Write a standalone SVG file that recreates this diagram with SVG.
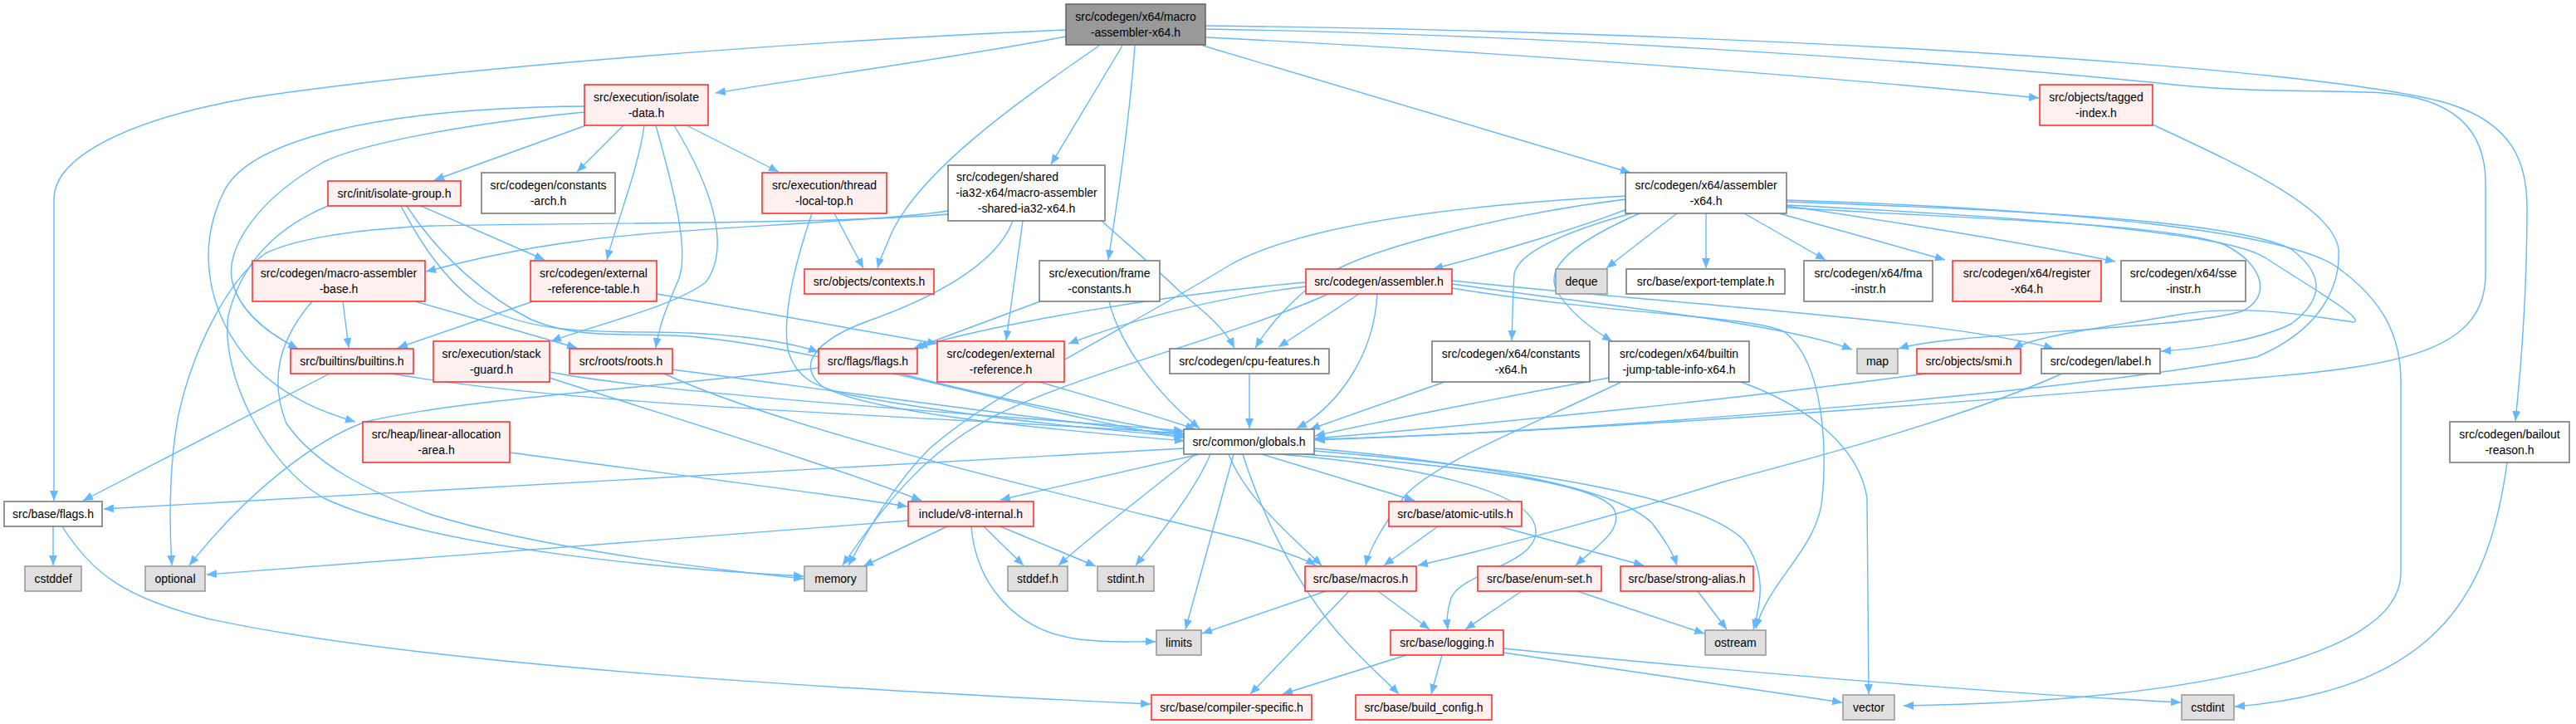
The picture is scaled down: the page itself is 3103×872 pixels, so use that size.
<svg xmlns="http://www.w3.org/2000/svg" width="3103" height="872" viewBox="0 0 3103 872">
<defs>
<marker id="ah" markerUnits="userSpaceOnUse" markerWidth="13" markerHeight="10" refX="12" refY="5" orient="auto"><path d="M0,0 L12,5 L0,10 z" fill="#63b8ff"/></marker>
<style>
.e{fill:none;stroke:#63b8ff;stroke-width:1.4;marker-end:url(#ah)}
.n rect{stroke-width:1.6}
.r rect{fill:#fff0f0;stroke:#ff3030}
.w rect{fill:#ffffff;stroke:#7a7a7a}
.g rect{fill:#e0e0e0;stroke:#9a9a9a}
.k rect{fill:#999999;stroke:#666666}
text{font-family:"Liberation Sans",Arial,sans-serif;font-size:14px;fill:#000;text-anchor:middle}
</style>
</defs>
<rect width="3103" height="872" fill="#fff"/>
<g id="edges">
<path class="e" d="M1284,44 C1150,70 960,95 862,112"/>
<path class="e" d="M1284,36 C1000,48 550,80 300,118 C150,145 65,190 65,240 L65,603"/>
<path class="e" d="M1324,55 C1230,120 1100,210 1070,290 C1064,305 1060,312 1057,323"/>
<path class="e" d="M1352,55 L1266,198"/>
<path class="e" d="M1367,55 C1360,150 1345,250 1335,313"/>
<path class="e" d="M1449,55 L1964,208"/>
<path class="e" d="M1452,45 C1800,62 2200,92 2456,118"/>
<path class="e" d="M1452,31 C2100,38 2800,80 2950,125 C3030,150 3044,200 3044,250 C3044,350 3036,450 3030,507"/>
<path class="e" d="M1452,35 C1900,42 2400,80 2600,100 C2700,112 2800,108 2870,112 C2960,118 2994,160 2994,220 L2994,330 C2994,420 2900,440 2720,455 C2300,490 1900,520 1584,529"/>
<path class="e" d="M704,128 C450,130 300,170 270,230 C235,300 250,380 305,440 C345,480 390,497 428,508"/>
<path class="e" d="M704,135 C550,150 430,175 390,195 C310,240 270,300 280,340 C290,380 330,405 359,420"/>
<path class="e" d="M706,151 L523,217"/>
<path class="e" d="M751,151 L695,207"/>
<path class="e" d="M776,151 C770,200 742,270 731,313"/>
<path class="e" d="M790,151 C812,230 830,300 818,335 C808,360 795,385 790,419"/>
<path class="e" d="M812,151 C860,230 880,300 850,340 C810,370 720,390 664,411"/>
<path class="e" d="M827,151 L938,207"/>
<path class="e" d="M395,248 C330,275 290,320 275,380 C265,450 320,560 390,600 C520,660 800,685 968,694"/>
<path class="e" d="M507,248 L656,313"/>
<path class="e" d="M483,248 C510,300 540,340 575,365 C630,398 700,400 780,400 C860,400 940,408 986,424"/>
<path class="e" d="M490,248 C530,310 590,360 640,385 C700,410 760,400 830,405 C1000,420 1250,500 1426,527"/>
<path class="e" d="M376,363 C335,410 325,460 345,510 C380,560 440,590 520,620 C650,660 850,685 968,697"/>
<path class="e" d="M413,363 L420,419"/>
<path class="e" d="M500,363 L695,419"/>
<path class="e" d="M642,363 L479,419"/>
<path class="e" d="M780,352 L1129,414"/>
<path class="e" d="M1005,257 L1040,323"/>
<path class="e" d="M978,257 C960,310 940,380 950,425 C960,455 980,465 1020,475 C1150,500 1300,515 1426,526"/>
<path class="e" d="M1142,254 C1050,268 800,275 700,290 C620,300 560,315 513,327"/>
<path class="e" d="M1142,258 C1000,270 700,268 520,272 C420,276 350,290 320,305 C270,340 230,430 215,500 C205,550 203,620 207,681"/>
<path class="e" d="M1232,266 L1212,410"/>
<path class="e" d="M1327,266 C1365,300 1400,330 1420,350 C1450,375 1475,395 1487,419"/>
<path class="e" d="M1220,266 C1200,320 1120,360 1050,385 C980,410 960,440 990,465 C1050,500 1300,520 1427,531"/>
<path class="e" d="M1253,363 L1100,420"/>
<path class="e" d="M1336,363 C1350,420 1400,480 1445,516"/>
<path class="e" d="M986,443 C780,468 560,480 440,508 C380,530 300,590 228,681"/>
<path class="e" d="M1085,450 C1200,480 1350,510 1426,522"/>
<path class="e" d="M1960,252 C1900,275 1800,305 1726,324"/>
<path class="e" d="M2020,257 L1935,323"/>
<path class="e" d="M2055,257 L2055,323"/>
<path class="e" d="M2101,257 L2199,313"/>
<path class="e" d="M2143,257 L2343,313"/>
<path class="e" d="M2152,248 C2300,270 2450,295 2548,315"/>
<path class="e" d="M1965,257 C1900,275 1830,300 1824,330 C1822,360 1822,385 1821,410"/>
<path class="e" d="M1975,257 C1900,290 1860,320 1875,350 C1890,375 1915,395 1942,411"/>
<path class="e" d="M1958,240 C1800,260 1650,300 1600,330 C1560,355 1530,390 1512,419"/>
<path class="e" d="M1958,236 C1700,250 1550,280 1480,320 C1350,400 1200,470 1120,540 C1080,580 1050,630 1022,681"/>
<path class="e" d="M2152,250 C2400,265 2620,270 2680,295 C2730,320 2735,360 2700,375 C2620,398 2350,400 2287,420"/>
<path class="e" d="M2152,247 C2450,262 2680,280 2728,310 C2790,350 2850,385 2835,388 C2780,380 2700,365 2618,380 C2530,395 2450,405 2425,420"/>
<path class="e" d="M2152,243 C2500,255 2700,270 2760,300 C2800,330 2800,360 2760,390 C2720,410 2650,420 2603,423"/>
<path class="e" d="M2152,241 C2500,252 2760,280 2817,323 C2867,360 2892,400 2892,460 L2892,690 C2892,800 2600,845 2293,850"/>
<path class="e" d="M2593,150 C2700,200 2810,250 2817,300 C2820,350 2790,400 2718,430 C2500,470 2000,515 1584,530"/>
<path class="e" d="M1637,354 L1540,418"/>
<path class="e" d="M1573,345 C1450,360 1350,390 1287,414"/>
<path class="e" d="M1573,340 C1400,355 1200,390 1105,418"/>
<path class="e" d="M1659,354 C1655,430 1610,490 1562,516"/>
<path class="e" d="M1749,342 C1950,370 2150,390 2231,421"/>
<path class="e" d="M1749,338 C2000,365 2350,385 2474,420"/>
<path class="e" d="M1749,347 C1950,380 2110,380 2150,400 C2200,440 2200,550 2195,600 C2190,660 2130,700 2115,757"/>
<path class="e" d="M1600,354 C1500,400 1300,450 1200,500 C1120,540 1070,600 1015,681"/>
<path class="e" d="M1740,460 L1578,517"/>
<path class="e" d="M1938,455 C1800,480 1650,510 1584,525"/>
<path class="e" d="M1953,460 C1850,510 1720,560 1690,600 C1665,635 1650,660 1645,681"/>
<path class="e" d="M2097,460 C2180,490 2240,540 2249,600 L2251,836"/>
<path class="e" d="M1505,450 L1505,516"/>
<path class="e" d="M2320,450 C2100,480 1800,510 1584,528"/>
<path class="e" d="M2484,450 C2350,510 2150,560 2077,580 C1950,620 1800,660 1708,681"/>
<path class="e" d="M810,445 C1000,470 1250,505 1426,524"/>
<path class="e" d="M800,450 C950,520 1300,600 1500,650 C1540,662 1570,672 1585,681"/>
<path class="e" d="M397,450 L100,603"/>
<path class="e" d="M472,450 C700,490 1100,500 1426,522"/>
<path class="e" d="M662,455 C800,500 1000,560 1110,603"/>
<path class="e" d="M662,448 C800,475 1200,500 1426,519"/>
<path class="e" d="M614,545 C800,570 1000,595 1093,610"/>
<path class="e" d="M1252,460 C1320,480 1390,500 1440,517"/>
<path class="e" d="M1094,627 C800,650 500,675 249,692"/>
<path class="e" d="M1141,634 L1040,682"/>
<path class="e" d="M1185,634 L1233,681"/>
<path class="e" d="M1205,634 L1320,682"/>
<path class="e" d="M1170,634 C1175,700 1220,760 1300,770 C1340,775 1370,772 1392,773"/>
<path class="e" d="M64,634 L64,681"/>
<path class="e" d="M75,634 C110,690 150,720 250,745 C500,800 1000,830 1386,848"/>
<path class="e" d="M3020,557 C3000,700 2950,830 2692,851"/>
<path class="e" d="M1660,712 L1722,758"/>
<path class="e" d="M1597,712 L1448,763"/>
<path class="e" d="M1625,712 L1506,836"/>
<path class="e" d="M1833,712 L1765,758"/>
<path class="e" d="M1900,712 L2053,763"/>
<path class="e" d="M2045,712 L2080,758"/>
<path class="e" d="M1732,634 L1667,681"/>
<path class="e" d="M1806,634 L1980,681"/>
<path class="e" d="M1694,789 L1545,836"/>
<path class="e" d="M1737,789 L1724,836"/>
<path class="e" d="M1811,786 L2219,846"/>
<path class="e" d="M1811,781 C2200,820 2500,840 2627,846"/>
<path class="e" d="M1426,540 L125,613"/>
<path class="e" d="M1445,547 L1205,602"/>
<path class="e" d="M1520,547 L1704,603"/>
<path class="e" d="M1480,547 C1500,600 1560,650 1592,681"/>
<path class="e" d="M1440,547 C1400,580 1320,640 1275,681"/>
<path class="e" d="M1458,547 C1440,590 1400,640 1368,681"/>
<path class="e" d="M1486,547 L1428,758"/>
<path class="e" d="M1497,547 C1520,620 1560,700 1610,760 C1645,800 1670,820 1685,836"/>
<path class="e" d="M1540,547 C1700,560 1850,590 1850,640 C1850,680 1760,690 1748,720 C1742,740 1743,750 1744,758"/>
<path class="e" d="M1570,547 C1750,560 1930,580 1945,615 C1955,640 1920,660 1898,681"/>
<path class="e" d="M1583,540 C1800,560 1950,590 1990,630 C2005,650 2015,665 2020,681"/>
<path class="e" d="M1583,543 C1850,565 2050,600 2100,650 C2130,690 2120,730 2112,758"/>
</g>
<g id="n0" class="n k"><rect x="1284" y="5" width="168" height="49"/><text x="1368" y="25">src/codegen/x64/macro</text><text x="1368" y="44">-assembler-x64.h</text></g>
<g id="n1" class="n r"><rect x="704" y="102" width="149" height="49"/><text x="778.5" y="122">src/execution/isolate</text><text x="778.5" y="141">-data.h</text></g>
<g id="n2" class="n r"><rect x="2457" y="102" width="136" height="49"/><text x="2525" y="122">src/objects/tagged</text><text x="2525" y="141">-index.h</text></g>
<g id="n3" class="n r"><rect x="395" y="218" width="160" height="30"/><text x="475" y="238">src/init/isolate-group.h</text></g>
<g id="n4" class="n w"><rect x="580" y="208" width="161" height="49"/><text x="660.5" y="228">src/codegen/constants</text><text x="660.5" y="247">-arch.h</text></g>
<g id="n5" class="n r"><rect x="918" y="208" width="150" height="49"/><text x="993" y="228">src/execution/thread</text><text x="993" y="247">-local-top.h</text></g>
<g id="n6" class="n w"><rect x="1142" y="199" width="189" height="67"/><text x="1152" y="218" style="text-anchor:start">src/codegen/shared</text><text x="1236.5" y="237">-ia32-x64/macro-assembler</text><text x="1236.5" y="256">-shared-ia32-x64.h</text></g>
<g id="n7" class="n w"><rect x="1958" y="208" width="194" height="49"/><text x="2055" y="228">src/codegen/x64/assembler</text><text x="2055" y="247">-x64.h</text></g>
<g id="n8" class="n r"><rect x="304" y="314" width="208" height="49"/><text x="408" y="334">src/codegen/macro-assembler</text><text x="408" y="353">-base.h</text></g>
<g id="n9" class="n r"><rect x="639" y="314" width="152" height="49"/><text x="715" y="334">src/codegen/external</text><text x="715" y="353">-reference-table.h</text></g>
<g id="n10" class="n r"><rect x="969" y="324" width="156" height="30"/><text x="1047" y="344">src/objects/contexts.h</text></g>
<g id="n11" class="n w"><rect x="1252" y="314" width="145" height="49"/><text x="1324.5" y="334">src/execution/frame</text><text x="1324.5" y="353">-constants.h</text></g>
<g id="n12" class="n r"><rect x="1573" y="324" width="176" height="30"/><text x="1661" y="344">src/codegen/assembler.h</text></g>
<g id="n13" class="n g"><rect x="1874" y="324" width="62" height="30"/><text x="1905" y="344">deque</text></g>
<g id="n14" class="n w"><rect x="1959" y="324" width="191" height="30"/><text x="2054.5" y="344">src/base/export-template.h</text></g>
<g id="n15" class="n w"><rect x="2173" y="314" width="155" height="49"/><text x="2250.5" y="334">src/codegen/x64/fma</text><text x="2250.5" y="353">-instr.h</text></g>
<g id="n16" class="n r"><rect x="2352" y="314" width="179" height="49"/><text x="2441.5" y="334">src/codegen/x64/register</text><text x="2441.5" y="353">-x64.h</text></g>
<g id="n17" class="n w"><rect x="2555" y="314" width="150" height="49"/><text x="2630" y="334">src/codegen/x64/sse</text><text x="2630" y="353">-instr.h</text></g>
<g id="n18" class="n r"><rect x="350" y="420" width="148" height="30"/><text x="424" y="440">src/builtins/builtins.h</text></g>
<g id="n19" class="n r"><rect x="522" y="411" width="140" height="49"/><text x="592" y="431">src/execution/stack</text><text x="592" y="450">-guard.h</text></g>
<g id="n20" class="n r"><rect x="686" y="420" width="124" height="30"/><text x="748" y="440">src/roots/roots.h</text></g>
<g id="n21" class="n r"><rect x="986" y="420" width="119" height="30"/><text x="1045.5" y="440">src/flags/flags.h</text></g>
<g id="n22" class="n r"><rect x="1129" y="411" width="153" height="49"/><text x="1205.5" y="431">src/codegen/external</text><text x="1205.5" y="450">-reference.h</text></g>
<g id="n23" class="n w"><rect x="1409" y="420" width="192" height="30"/><text x="1505" y="440">src/codegen/cpu-features.h</text></g>
<g id="n24" class="n w"><rect x="1725" y="411" width="190" height="49"/><text x="1820" y="431">src/codegen/x64/constants</text><text x="1820" y="450">-x64.h</text></g>
<g id="n25" class="n w"><rect x="1938" y="411" width="169" height="49"/><text x="2022.5" y="431">src/codegen/x64/builtin</text><text x="2022.5" y="450">-jump-table-info-x64.h</text></g>
<g id="n26" class="n g"><rect x="2237" y="420" width="49" height="30"/><text x="2261.5" y="440">map</text></g>
<g id="n27" class="n r"><rect x="2309" y="420" width="125" height="30"/><text x="2371.5" y="440">src/objects/smi.h</text></g>
<g id="n28" class="n w"><rect x="2459" y="420" width="143" height="30"/><text x="2530.5" y="440">src/codegen/label.h</text></g>
<g id="n29" class="n r"><rect x="437" y="508" width="177" height="49"/><text x="525.5" y="528">src/heap/linear-allocation</text><text x="525.5" y="547">-area.h</text></g>
<g id="n30" class="n w"><rect x="1426" y="517" width="157" height="30"/><text x="1504.5" y="537">src/common/globals.h</text></g>
<g id="n31" class="n w"><rect x="2951" y="508" width="144" height="49"/><text x="3023" y="528">src/codegen/bailout</text><text x="3023" y="547">-reason.h</text></g>
<g id="n32" class="n w"><rect x="5" y="604" width="118" height="30"/><text x="64" y="624">src/base/flags.h</text></g>
<g id="n33" class="n r"><rect x="1094" y="604" width="151" height="30"/><text x="1169.5" y="624">include/v8-internal.h</text></g>
<g id="n34" class="n r"><rect x="1673" y="604" width="160" height="30"/><text x="1753" y="624">src/base/atomic-utils.h</text></g>
<g id="n35" class="n g"><rect x="30" y="682" width="68" height="30"/><text x="64" y="702">cstddef</text></g>
<g id="n36" class="n g"><rect x="175" y="682" width="72" height="30"/><text x="211" y="702">optional</text></g>
<g id="n37" class="n g"><rect x="969" y="682" width="75" height="30"/><text x="1006.5" y="702">memory</text></g>
<g id="n38" class="n g"><rect x="1214" y="682" width="72" height="30"/><text x="1250" y="702">stddef.h</text></g>
<g id="n39" class="n g"><rect x="1322" y="682" width="68" height="30"/><text x="1356" y="702">stdint.h</text></g>
<g id="n40" class="n r"><rect x="1572" y="682" width="134" height="30"/><text x="1639" y="702">src/base/macros.h</text></g>
<g id="n41" class="n r"><rect x="1780" y="682" width="149" height="30"/><text x="1854.5" y="702">src/base/enum-set.h</text></g>
<g id="n42" class="n r"><rect x="1952" y="682" width="160" height="30"/><text x="2032" y="702">src/base/strong-alias.h</text></g>
<g id="n43" class="n g"><rect x="1393" y="759" width="54" height="30"/><text x="1420" y="779">limits</text></g>
<g id="n44" class="n r"><rect x="1675" y="759" width="136" height="30"/><text x="1743" y="779">src/base/logging.h</text></g>
<g id="n45" class="n g"><rect x="2054" y="759" width="73" height="30"/><text x="2090.5" y="779">ostream</text></g>
<g id="n46" class="n r"><rect x="1387" y="837" width="193" height="30"/><text x="1483.5" y="857">src/base/compiler-specific.h</text></g>
<g id="n47" class="n r"><rect x="1633" y="837" width="164" height="30"/><text x="1715" y="857">src/base/build_config.h</text></g>
<g id="n48" class="n g"><rect x="2220" y="837" width="62" height="30"/><text x="2251" y="857">vector</text></g>
<g id="n49" class="n g"><rect x="2628" y="837" width="63" height="30"/><text x="2659.5" y="857">cstdint</text></g>
</svg>
